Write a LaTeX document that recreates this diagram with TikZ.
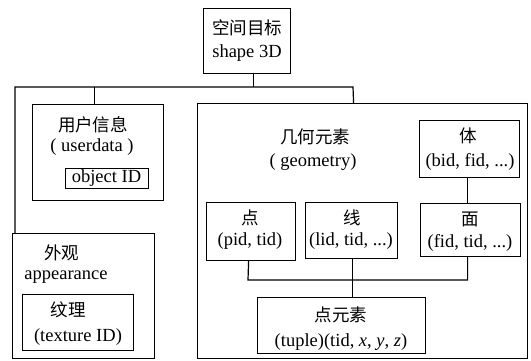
\documentclass[tikz,border=0pt]{standalone}
\usepackage{fontspec}
\setmainfont{Liberation Serif}
\newfontfamily\cjk{Noto Sans CJK SC}
\begin{document}
\begin{tikzpicture}[x=1pt,y=-1pt,
  box/.style={draw,line width=1.2pt,inner sep=0pt,anchor=north west},
  txt/.style={inner sep=0pt,font=\fontsize{18.5}{20}\selectfont},
  ctxt/.style={inner sep=0pt,font=\fontsize{17.5}{20}\selectfont\cjk},
  conn/.style={line width=1.2pt}]
\useasboundingbox (0,0) rectangle (531,361);
% boxes
\node[box,minimum width=87pt,minimum height=65pt] (top) at (203,8) {};
\node[box,minimum width=131pt,minimum height=96pt] (user) at (32,104) {};
\node[box,minimum width=83pt,minimum height=20pt] (oid) at (65,168) {};
\node[box,minimum width=142pt,minimum height=125pt] (app) at (12,233) {};
\node[box,minimum width=111pt,minimum height=56pt] (tex) at (22,294) {};
\node[box,minimum width=330pt,minimum height=255pt] (geo) at (197,103) {};
\node[box,minimum width=100pt,minimum height=57pt] (ti) at (419,120) {};
\node[box,minimum width=100pt,minimum height=53pt] (mian) at (420,203) {};
\node[box,minimum width=89pt,minimum height=58pt] (dian) at (206,202) {};
\node[box,minimum width=92pt,minimum height=56pt] (xian) at (305,202) {};
\node[box,minimum width=168pt,minimum height=56pt] (pe) at (257,297) {};
% texts
\node[ctxt] (t1) at (247,28) {空间目标};
\node[txt] (t2) at (247,53) {shape 3D};
\node[ctxt] (u1) at (93,125) {用户信息};
\node[txt] (u2) at (92,147) {( userdata )};
\node[txt] (o1) at (106.5,178) {object ID};
\node[ctxt] (a1) at (62,253) {外观};
\node[txt] (a2) at (66,277) {appearance};
\node[ctxt] (x1) at (68,310) {纹理};
\node[txt] (x2) at (78,337) {(texture ID)};
\node[ctxt] (g1) at (315,137) {几何元素};
\node[txt] (g2) at (313,162) {( geometry)};
\node[ctxt] (b1) at (468,136) {体};
\node[txt] (b2) at (470,162) {(bid, fid, ...)};
\node[ctxt] (m1) at (470,219) {面};
\node[txt] (m2) at (470,243) {(fid, tid, ...)};
\node[ctxt] (d1) at (250,218) {点};
\node[txt] (d2) at (250,241) {(pid, tid)};
\node[ctxt] (l1) at (352,218) {线};
\node[txt] (l2) at (351,241) {(lid, tid, ...)};
\node[ctxt] (p1) at (341,315) {点元素};
\node[txt] (p2) at (341,342) {(tuple)(tid, \textit{x}, \textit{y}, \textit{z})};
% connectors
\coordinate (busL) at (15,87);
\coordinate (busR) at (353,87);
\coordinate (bus2) at (248,280);
\draw[conn] ([xshift=6.5pt]top.south) -- ([xshift=6.5pt]top.south |- busL);
\draw[conn] ([xshift=3pt]app.north west) -- (busL) -- (busR) -- ([xshift=-9pt]geo.north);
\draw[conn] ([xshift=-3.5pt]user.north) -- ([xshift=-3.5pt]user.north |- busL);
\draw[conn] ([xshift=-2pt]ti.south) -- ([xshift=-3pt]mian.north);
\draw[conn] ([xshift=-2.5pt]dian.south) -- (bus2) -- ([xshift=-3pt]mian.south |- bus2) -- ([xshift=-3pt]mian.south);
\draw[conn] ([xshift=1pt]xian.south) -- ([xshift=1pt]xian.south |- pe.north);
\end{tikzpicture}
\end{document}
